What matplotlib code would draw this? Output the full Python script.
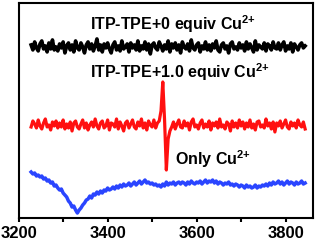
import matplotlib
matplotlib.use("Agg")
import matplotlib.pyplot as plt
import numpy as np
from matplotlib.ticker import MultipleLocator

# field sweep (G), one point every 4 G
field = np.arange(3228, 3845, 4)

# ITP-TPE + 0 equiv Cu2+ : flat noisy baseline
black_y = [2, -3, 5, -1, -4, 3, 6, -2, 1, -5, 4, -2, 7, -3, 0, -4, 3, -1, 5, -6,
           1, 4, -3, 2, -5, 6, -1, -3, 4, 0, -6, 2, 5, -2, 3, -4, 1, 8, -3, 2,
           -5, 3, -1, 4, -2, -6, 2, 5, -3, 1, -4, 6, -2, 0, 3, -5, 4, -1, 2, -3,
           6, -4, 1, -2, 5, -3, 3, -7, 2, 4, -1, -3, 5, 1, -4, 2, -2, 6, -5, 3,
           -1, 4, -3, 2, -6, 5, 0, -2, 3, -4, 7, -1, -3, 2, 4, -5, 1, -2, 5, -3,
           2, -4, 3, -1, 6, -3, -5, 2, 4, -2, 1, -6, 3, 5, -2, 0, -3, 4, -1, 2,
           -4, 5, -2, 3, -1, -5, 6, -3, 2, 0, -2, 4, -4, 3, 1, -3, 5, -1, -2, 4,
           -3, 2, 5, -4, 1, -2, 4, -5, 3, 0, -3, 2, 4, -1, 1]

# ITP-TPE + 1.0 equiv Cu2+ : sharp radical signal near 3525 G
red_y = [-2, 4, 1, -3, 5, -1, -4, 2, 6, -2, 0, -5, 3, -1, 4, -3, 2, -2, 5, -4,
         1, -3, 3, -6, 2, 4, -2, -4, 1, 5, -3, 2, -5, 0, 3, -2, 6, -1, -4, 2,
         4, -3, -1, 5, -5, 2, 1, -2, 6, -4, 3, -1, -6, 2, 4, -3, 1, 5, -2, -4,
         3, -1, 6, -3, 2, -5, 4, 0, -2, 5, -3, 2, 4, 14, 43, 5, -45, -14, -6, -2,
         3, -4, 1, 5, -2, -3, 4, -1, 2, -5, 3, 6, -2, 0, -4, 2, 5, -3, 1, -2,
         4, -5, 2, -1, 3, -3, 6, -2, 0, -4, 3, 1, -6, 4, -2, 2, -3, 5, -1, 3,
         -4, 2, -2, 5, -3, 1, -5, 3, 4, -2, 0, -3, 6, -1, 2, -4, 3, -7, 2, -1,
         4, -3, 1, 5, -2, -4, 3, -1, 2, -3, 5, 0, -2, 3, -4]

# only Cu2+ : broad absorption around 3330 G
blue_y = [46, 44, 45, 42, 43,
          41, 42, 39, 40, 37, 38,
          35, 36, 32, 33, 30,
          28, 29, 25, 23,
          21, 17, 15,
          11, 12, 8,
          5, 8, 10,
          13, 15, 18, 19,
          22, 20, 24, 23, 26, 24,
          27, 25, 28, 27, 30, 28, 29,
          31, 29, 32, 30, 33, 31, 34, 32,
          33, 35, 32, 34, 36, 33, 35, 37, 34, 36,
          38, 35, 36, 34, 35, 33, 34, 32, 33,
          31, 34, 32, 36, 33, 35, 34, 36, 33, 35, 36,
          34, 36, 35, 33, 36, 34, 37, 35, 34, 36, 35, 37, 34, 36, 38, 35, 37, 36,
          38, 35, 37, 34, 36, 35, 33, 35, 34, 36, 33, 34, 32, 34, 33, 31, 33,
          32, 30, 33, 31, 32, 30, 31, 33, 30, 32,
          31, 33, 32, 34, 32, 35, 33, 36, 34,
          35, 37, 34, 36, 33, 35, 37, 34, 36, 35, 33, 36, 34, 35, 37, 34, 35]

labels = [r'ITP-TPE+0 equiv Cu$^{2{+}}$',
          r'ITP-TPE+1.0 equiv Cu$^{2{+}}$',
          r'Only Cu$^{2{+}}$']

plt.rcParams['font.family'] = ['Liberation Sans', 'DejaVu Sans']
plt.rcParams['font.weight'] = 'bold'
plt.rcParams['mathtext.fontset'] = 'custom'
plt.rcParams['mathtext.rm'] = 'Liberation Sans:bold'
plt.rcParams['mathtext.bf'] = 'Liberation Sans:bold'
plt.rcParams['mathtext.default'] = 'bf'

fig = plt.figure(figsize=(3.16, 2.42), dpi=100)
ax = fig.add_axes([0.059, 0.099, 0.932, 0.889])

ax.plot(field, np.array(black_y) + 171, color='black', lw=2.6)
ax.plot(field, np.array(red_y) + 93, color='#ff1010', lw=2.3)
ax.plot(field, blue_y, color='#2a45ff', lw=2.5)

ax.text(3361, 188, labels[0], fontsize=11.5, fontweight='bold')
ax.text(3361, 140, labels[1], fontsize=11.5, fontweight='bold')
ax.text(3552, 53, labels[2], fontsize=11.5, fontweight='bold')

ax.set_xlim(3200, 3862)
ax.set_ylim(0, 215)
ax.xaxis.set_major_locator(MultipleLocator(200))
ax.xaxis.set_minor_locator(MultipleLocator(100))
ax.tick_params(axis='x', which='both', direction='out', length=3, width=1.5,
               labelsize=12, pad=3)
ax.set_yticks([])
for s in ax.spines.values():
    s.set_linewidth(1.5)
for lab in ax.get_xticklabels():
    lab.set_fontweight('bold')

fig.savefig('out.png', dpi=100)
